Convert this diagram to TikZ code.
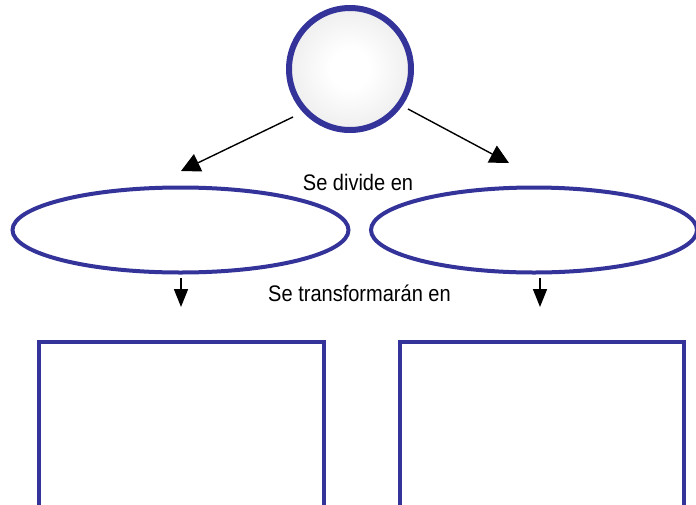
\documentclass[tikz,border=0pt]{standalone}
\usepackage{fontspec}
\setmainfont{Liberation Sans}[FakeStretch=0.89]
\usetikzlibrary{arrows.meta,shapes.geometric}
\pgfdeclareradialshading{ballshade}{\pgfpoint{0bp}{0bp}}{color(0bp)=(white); color(8bp)=(white); color(50bp)=(black!16); color(70bp)=(black!16)}
\definecolor{mapblue}{HTML}{333399}
\tikzset{
  ball/.style={circle, draw=mapblue, line width=6pt, shading=ballshade, minimum size=122pt, inner sep=0pt},
  oval/.style={ellipse, draw=mapblue, line width=4pt, inner sep=0pt},
  framebox/.style={draw=mapblue, line width=4pt},
  conn/.style={line width=1.4pt, -{Triangle[length=19pt,width=19pt]}},
  downconn/.style={line width=1.6pt, -{Triangle[length=18pt,width=14pt]}},
  lbl/.style={font=\fontsize{22.5}{26}\selectfont, anchor=base, inner sep=0pt}
}
\begin{document}
\begin{tikzpicture}[x=1pt,y=-1pt]
\useasboundingbox (0,0) rectangle (696,504);
\fill[white] (0,0) rectangle (696,504);
% top circle
\node[ball] (top) at (350,69) {};
% ellipses
\node[oval, minimum width=336pt, minimum height=85pt] (left) at (180.5,230) {};
\node[oval, minimum width=326pt, minimum height=85pt] (right) at (534,230) {};
% boxes (extend below the frame)
\draw[framebox] (39,342) rectangle (324,520);
\draw[framebox] (400,342) rectangle (684,520);
% connector coordinates
\coordinate (a1s) at (293,117);
\coordinate (a1e) at (181,171);
\coordinate (a2s) at (408,109);
\coordinate (a2e) at (509,163);
\coordinate (d1s) at (181,278);
\coordinate (d1e) at (181,307);
\coordinate (d2s) at (540,278);
\coordinate (d2e) at (540,307);
\draw[conn] (a1s) -- (a1e);
\draw[conn] (a2s) -- (a2e);
\draw[downconn] (d1s) -- (d1e);
\draw[downconn] (d2s) -- (d2e);
% labels
\node[lbl] (t1) at (358,190) {Se divide en};
\node[lbl] (t2) at (359.5,301) {Se transformarán en};
\end{tikzpicture}
\end{document}
